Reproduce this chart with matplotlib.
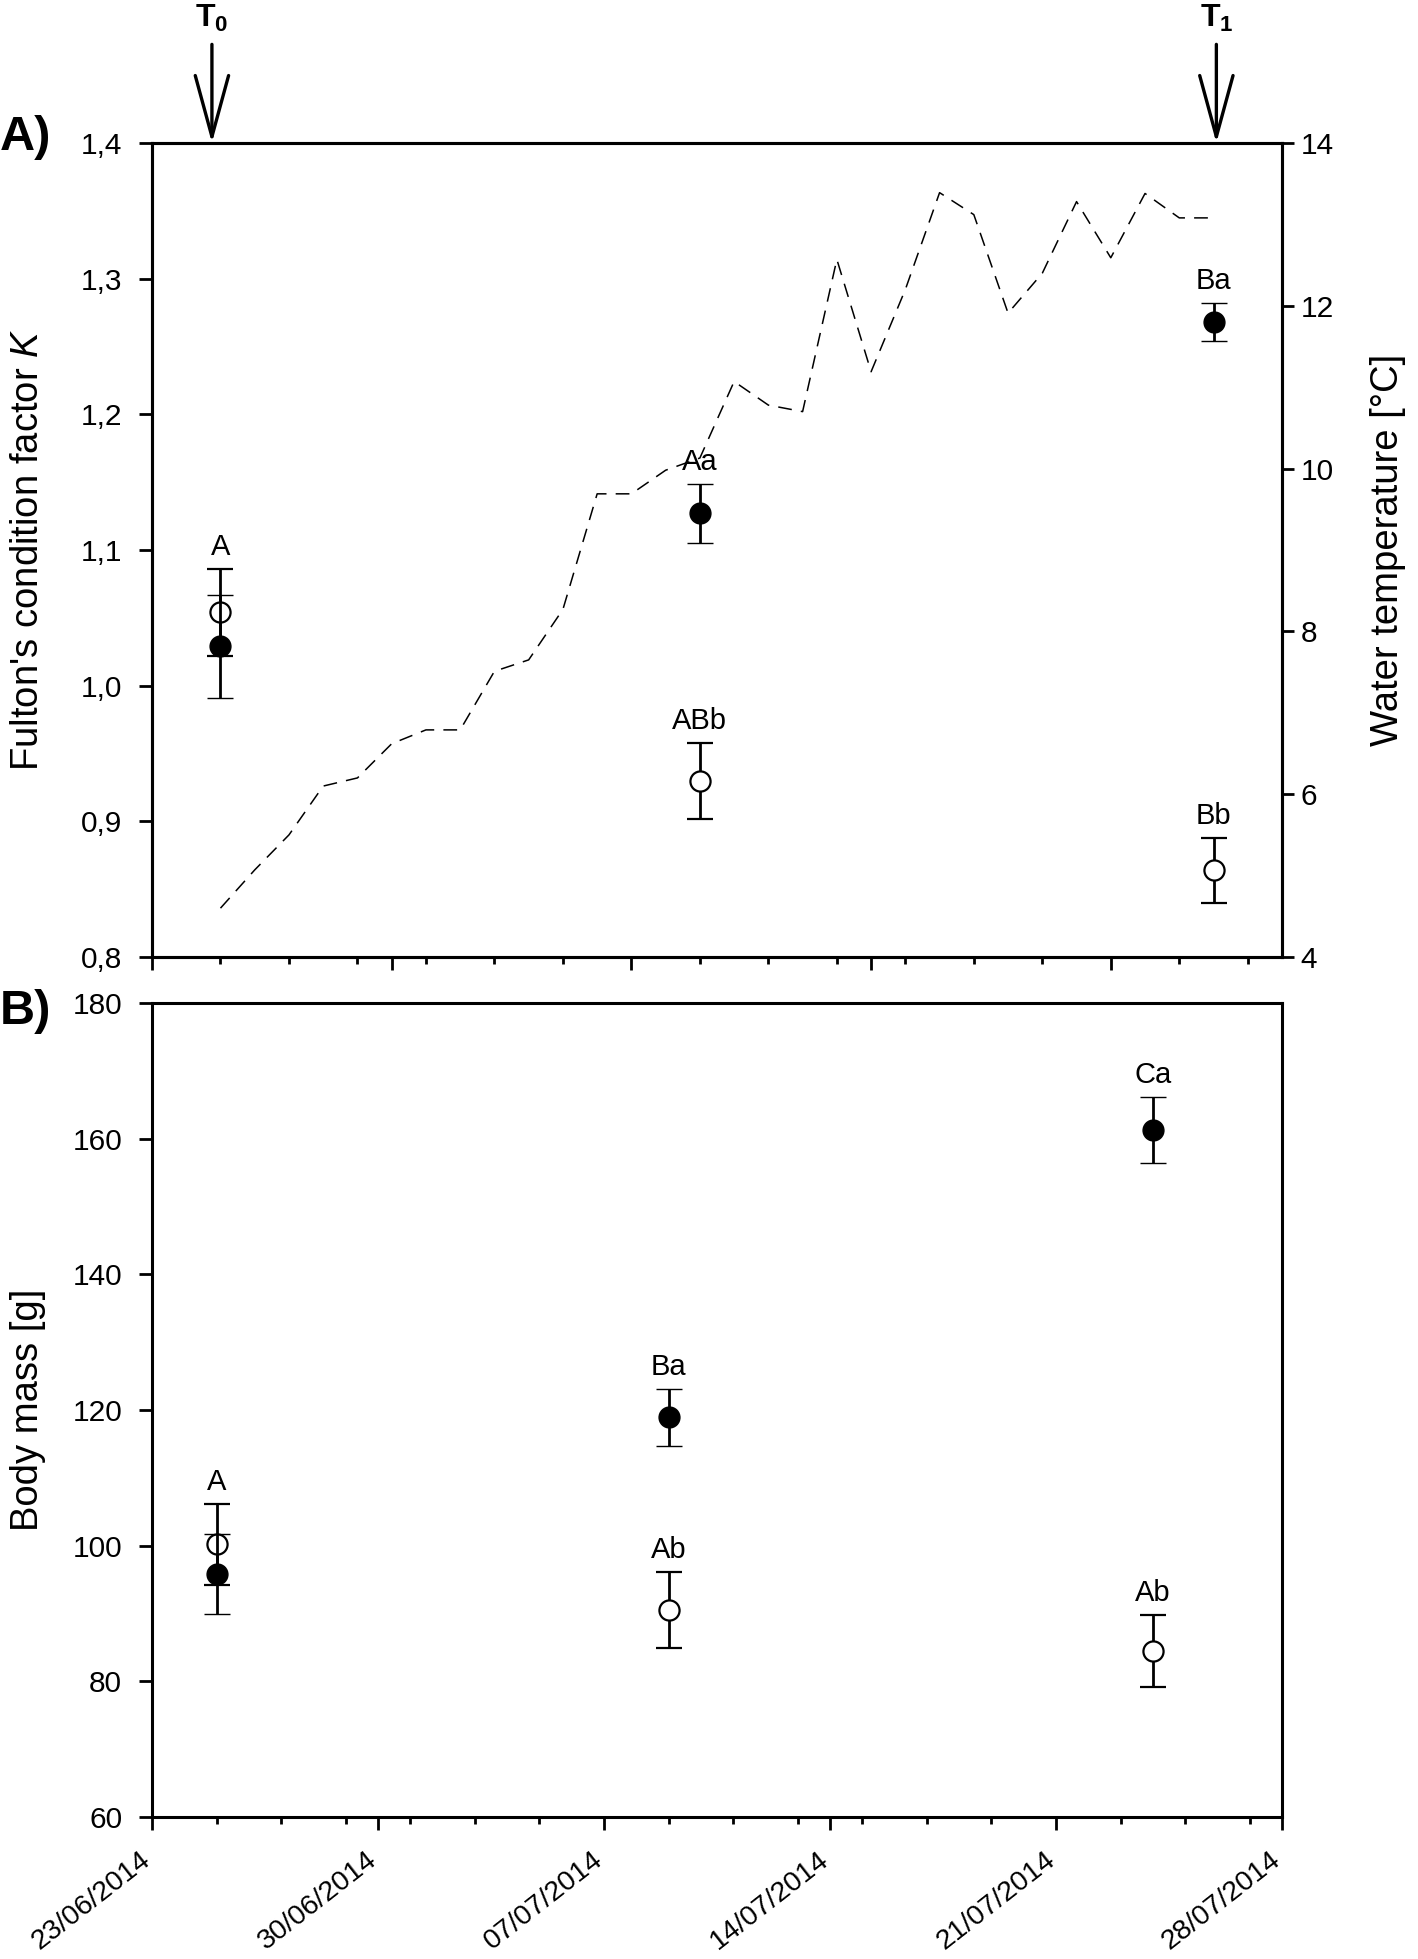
import matplotlib
matplotlib.use('Agg')
import matplotlib.pyplot as plt
import matplotlib.dates as mdates
import matplotlib.transforms as mtransforms
from matplotlib.ticker import FixedLocator, FixedFormatter, NullFormatter
import numpy as np
import pandas as pd
from datetime import datetime, timedelta

plt.rcParams['font.family'] = ['Liberation Sans', 'DejaVu Sans']
plt.rcParams['mathtext.fontset'] = 'custom'
plt.rcParams['mathtext.rm'] = 'Liberation Sans'
plt.rcParams['mathtext.it'] = 'Liberation Sans:italic'
plt.rcParams['mathtext.bf'] = 'Liberation Sans:bold'

# ---------------- data ----------------
sample_dates = ['2014-06-25', '2014-07-09', '2014-07-24']

# Panel A: Fulton's condition factor K
k_filled = [1.029, 1.127, 1.268]
k_filled_err = [0.038, 0.022, 0.014]
k_open = [1.054, 0.930, 0.864]
k_open_err = [0.032, 0.028, 0.024]
k_filled_letters = ['', 'Aa', 'Ba']
k_open_letters = ['A', 'ABb', 'Bb']

# Panel A: water temperature (daily)
temp_dates = ['2014-06-25', '2014-06-26', '2014-06-27', '2014-06-28', '2014-06-29',
              '2014-06-30', '2014-07-01', '2014-07-02', '2014-07-03', '2014-07-04',
              '2014-07-05', '2014-07-06', '2014-07-07', '2014-07-08', '2014-07-09',
              '2014-07-10', '2014-07-11', '2014-07-12', '2014-07-13', '2014-07-14',
              '2014-07-15', '2014-07-16', '2014-07-17', '2014-07-18', '2014-07-19',
              '2014-07-20', '2014-07-21', '2014-07-22', '2014-07-23', '2014-07-24']
temp_c = [4.60, 5.07, 5.50, 6.10, 6.20, 6.62, 6.79, 6.79, 7.51, 7.65,
          8.27, 9.69, 9.69, 9.98, 10.13, 11.07, 10.78, 10.70, 12.57, 11.19,
          12.20, 13.39, 13.12, 11.91, 12.40, 13.28, 12.59, 13.38, 13.08, 13.08]

# Panel B: body mass
m_filled = [95.8, 118.9, 161.3]
m_filled_err = [5.9, 4.2, 4.85]
m_open = [100.2, 90.5, 84.5]
m_open_err = [6.0, 5.6, 5.3]
m_filled_letters = ['', 'Ba', 'Ca']
m_open_letters = ['A', 'Ab', 'Ab']

# sampling events
event_labels = [r'$\mathbf{T}_{\mathbf{0}}$', r'$\mathbf{T}_{\mathbf{1}}$']
event_dates = ['2014-06-24 18:00', '2014-07-24 02:00']

# axes ticks
k_ticks = [0.8, 0.9, 1.0, 1.1, 1.2, 1.3, 1.4]
k_ticklabels = ['0,8', '0,9', '1,0', '1,1', '1,2', '1,3', '1,4']
t_ticks = [4, 6, 8, 10, 12, 14]
t_ticklabels = ['4', '6', '8', '10', '12', '14']
m_ticks = [60, 80, 100, 120, 140, 160, 180]
m_ticklabels = ['60', '80', '100', '120', '140', '160', '180']
date_ticks = ['2014-06-23', '2014-06-30', '2014-07-07', '2014-07-14', '2014-07-21', '2014-07-28']
date_ticklabels = ['23/06/2014', '30/06/2014', '07/07/2014', '14/07/2014', '21/07/2014', '28/07/2014']
xlim_A = ['2014-06-23', '2014-07-26']
xlim_B = ['2014-06-23', '2014-07-28']

# ---------------- figure ----------------
W, H = 1418, 1959
fig = plt.figure(figsize=(W / 100, H / 100), dpi=100)


def fx(px):
    return px / W


def fy(py):
    return 1 - py / H


axA = fig.add_axes([fx(152), fy(957), fx(1282) - fx(152), fy(143) - fy(957)])
axT = axA.twinx()
axB = fig.add_axes([fx(152), fy(1817), fx(1282) - fx(152), fy(1003) - fy(1817)])
axA.set_zorder(axT.get_zorder() + 1)
axA.patch.set_visible(False)

S = pd.to_datetime(sample_dates)
TD = pd.to_datetime(temp_dates)

SPINE_W = 2.2
TICK_W = 2.0
TICK_FS = 21.5
LAB_FS = 27.5
LET_FS = 21

for ax in (axA, axT, axB):
    for sp in ax.spines.values():
        sp.set_linewidth(SPINE_W)

# temperature line
axT.plot(TD, temp_c, color='black', lw=1.1, linestyle=(0, (9, 6)))
axT.set_ylim(4, 14)
axT.yaxis.set_major_locator(FixedLocator(t_ticks))
axT.yaxis.set_major_formatter(FixedFormatter(t_ticklabels))
axT.tick_params(axis='y', direction='out', length=8.3, width=TICK_W, labelsize=TICK_FS, pad=5)
axT.set_ylabel('Water temperature [°C]', fontsize=LAB_FS, rotation=90, labelpad=26)


def draw_points(ax, y_open, e_open, y_fill, e_fill, let_open, let_fill):
    ax.errorbar(S, y_open, yerr=e_open, fmt='o', ms=14.5, mfc='white', mec='black', mew=1.6,
                ecolor='black', elinewidth=2.0, capsize=9.4, capthick=2.0, zorder=3)
    ax.errorbar(S, y_fill, yerr=e_fill, fmt='o', ms=15, mfc='black', mec='black', mew=1.0,
                ecolor='black', elinewidth=2.0, capsize=9.4, capthick=2.0, zorder=4)
    for x, y, e, t in zip(S, y_open, e_open, let_open):
        if t:
            ax.annotate(t, xy=(x, y + e), xytext=(0, 10), textcoords='offset points',
                        ha='center', va='baseline', fontsize=LET_FS)
    for x, y, e, t in zip(S, y_fill, e_fill, let_fill):
        if t:
            ax.annotate(t, xy=(x, y + e), xytext=(0, 10), textcoords='offset points',
                        ha='center', va='baseline', fontsize=LET_FS)


draw_points(axA, k_open, k_open_err, k_filled, k_filled_err, k_open_letters, k_filled_letters)
draw_points(axB, m_open, m_open_err, m_filled, m_filled_err, m_open_letters, m_filled_letters)

# Panel A axes
axA.set_xlim(pd.to_datetime(xlim_A[0]), pd.to_datetime(xlim_A[1]))
axA.set_ylim(0.8, 1.4)
axA.yaxis.set_major_locator(FixedLocator(k_ticks))
axA.yaxis.set_major_formatter(FixedFormatter(k_ticklabels))
axA.tick_params(axis='y', direction='out', length=9.5, width=TICK_W, labelsize=TICK_FS, pad=12)
axA.set_ylabel("Fulton's condition factor $K$", fontsize=LAB_FS)
axA.yaxis.set_label_coords(-0.094, 0.5)

# Panel B axes
axB.set_xlim(pd.to_datetime(xlim_B[0]), pd.to_datetime(xlim_B[1]))
axB.set_ylim(60, 180)
axB.yaxis.set_major_locator(FixedLocator(m_ticks))
axB.yaxis.set_major_formatter(FixedFormatter(m_ticklabels))
axB.tick_params(axis='y', direction='out', length=9.5, width=TICK_W, labelsize=TICK_FS, pad=12)
axB.set_ylabel('Body mass [g]', fontsize=LAB_FS)
axB.yaxis.set_label_coords(-0.094, 0.5)

# x ticks (dates)
major_nums = mdates.date2num(pd.to_datetime(date_ticks).to_pydatetime())
for ax, xl in ((axA, xlim_A), (axB, xlim_B)):
    lo = pd.to_datetime(xl[0]).to_pydatetime()
    hi = pd.to_datetime(xl[1]).to_pydatetime()
    minor = mdates.drange(lo, hi + timedelta(hours=1), timedelta(days=2))
    ax.xaxis.set_major_locator(FixedLocator([m for m in major_nums if m <= mdates.date2num(hi) + 1e-6]))
    ax.xaxis.set_minor_locator(FixedLocator(minor))
    ax.tick_params(axis='x', which='major', direction='out', length=9.2, width=TICK_W)
    ax.tick_params(axis='x', which='minor', direction='out', length=5.2, width=TICK_W)

axA.xaxis.set_major_formatter(NullFormatter())
axA.xaxis.set_minor_formatter(NullFormatter())
axB.xaxis.set_major_formatter(FixedFormatter(date_ticklabels))
axB.xaxis.set_minor_formatter(NullFormatter())
axB.tick_params(axis='x', which='major', labelsize=20.5, pad=12)
offset = mtransforms.ScaledTranslation(-12 / 100, 0, fig.dpi_scale_trans)
for lab in axB.get_xticklabels():
    lab.set_rotation(38)
    lab.set_ha('right')
    lab.set_va('top')
    lab.set_rotation_mode('anchor')
    lab.set_transform(lab.get_transform() + offset)

# event arrows
for lbl, d in zip(event_labels, event_dates):
    xd = pd.to_datetime(d)
    axA.annotate('', xy=(xd, 1.4), xycoords='data', xytext=(0, 71), textcoords='offset points',
                 arrowprops=dict(arrowstyle='->,head_length=0.44,head_width=0.12',
                                 mutation_scale=100, lw=2.4, color='black',
                                 shrinkA=0, shrinkB=0),
                 annotation_clip=False)
    axA.annotate(lbl, xy=(xd, 1.4), xycoords='data', xytext=(0, 90), textcoords='offset points',
                 ha='center', va='center', fontsize=23, annotation_clip=False)

# panel letters
fig.text(0.0, fy(138), 'A)', fontsize=35, fontweight='bold', ha='left', va='center')
fig.text(0.0, fy(1012), 'B)', fontsize=35, fontweight='bold', ha='left', va='center')

fig.savefig('out.png', dpi=100)
